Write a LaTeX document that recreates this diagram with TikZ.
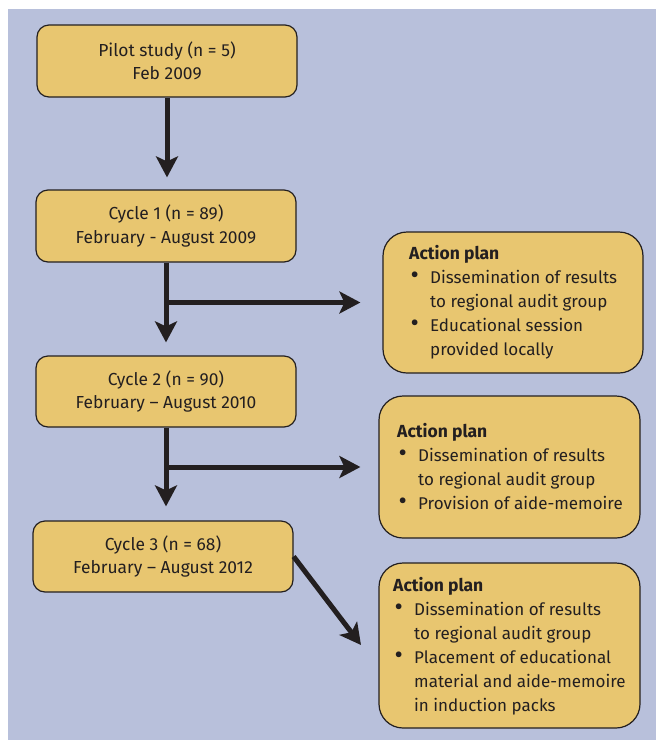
\documentclass[tikz,border=0pt]{standalone}
\usepackage{fontspec}
\setmainfont{Fira Sans}
\usetikzlibrary{arrows.meta}
\definecolor{bgblue}{RGB}{184,192,219}
\definecolor{boxfill}{RGB}{232,198,112}
\definecolor{ink}{RGB}{35,31,32}
\newcommand{\bul}{\makebox[21pt][l]{\hspace{1.5pt}\raisebox{-0.6pt}{\scalebox{1.5}{\textbullet}}}}
\newcommand{\plantext}[1]{\begin{tabular}[t]{@{}l@{}l@{}}\multicolumn{2}{@{}l@{}}{\fontsize{17.5}{24}\selectfont\bfseries Action plan}\\#1\end{tabular}}
\begin{document}
\begin{tikzpicture}[x=1pt,y=-1pt,
  cyclebox/.style={draw=ink, line width=1.2pt, fill=boxfill, rounded corners=12pt,
    minimum height=71pt, align=center, inner sep=0pt,
    font=\fontsize{17.4}{23.5}\selectfont, text=ink},
  planbox/.style={draw=ink, line width=1.2pt, fill=boxfill, rounded corners=24pt, inner sep=0pt},
  plantxt/.style={anchor=base west, inner sep=0pt, text=ink, font=\fontsize{17}{24}\selectfont},
  flow/.style={line width=5pt, draw=ink, -{Stealth[length=21pt,width=22pt,inset=5pt]}}]
\useasboundingbox (0,0) rectangle (656,740);
\fill[white] (0,0) rectangle (656,740);
\fill[bgblue] (8,9) rectangle (656,740);

\node[cyclebox, minimum width=260pt, minimum height=72pt] (pilot) at (167,61) {Pilot study (n = 5)\\Feb 2009};
\node[cyclebox, minimum width=260pt, minimum height=72pt] (c1) at (166,226) {Cycle 1 (n = 89)\\February - August 2009};
\node[cyclebox, minimum width=260pt] (c2) at (166,391.5) {Cycle 2 (n = 90)\\February -- August 2010};
\node[cyclebox, minimum width=260pt] (c3) at (163,556.5) {Cycle 3 (n = 68)\\February -- August 2012};

\node[planbox, minimum width=260pt, minimum height=141pt] (ap1) at (513,302.5) {};
\node[planbox, minimum width=261pt, minimum height=142pt] (ap2) at (509.5,467) {};
\node[planbox, minimum width=261pt, minimum height=165pt] (ap3) at (509.5,645.5) {};

\node[plantxt] (t1) at (409,259) {\plantext{\bul & Dissemination of results\\ & to regional audit group\\ \bul & Educational session\\ & provided locally}};
\node[plantxt] (t2) at (397,437) {\plantext{\bul & Dissemination of results\\ & to regional audit group\\ \bul & Provision of aide-memoire}};
\node[plantxt] (t3) at (393,591) {\plantext{\bul & Dissemination of results\\ & to regional audit group\\ \bul & Placement of educational\\ & material and aide-memoire\\ & in induction packs}};

\coordinate (tip3) at (361,645);

\draw[flow, shorten >=12pt] (pilot.south) -- (pilot.south |- c1.north);
\draw[flow, shorten >=13pt] (c1.south) -- (c1.south |- c2.north);
\draw[flow, shorten >=14pt] (c2.south) -- (c2.south |- c3.north);
\draw[flow, shorten >=22pt] (c1.south |- ap1.west) -- (ap1.west);
\draw[flow, shorten >=18pt] (c2.south |- ap2.west) -- (ap2.west);
\draw[flow] (c3.east) -- (tip3);
\end{tikzpicture}
\end{document}
